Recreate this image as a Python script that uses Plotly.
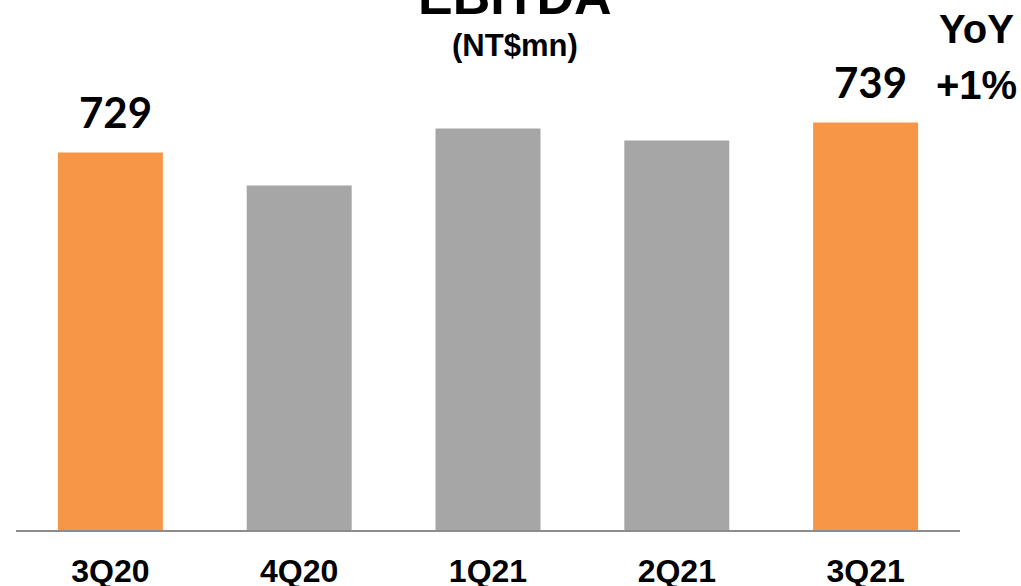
import plotly.graph_objects as go

categories = ["3Q20", "4Q20", "1Q21", "2Q21", "3Q21"]
ebitda = [729, 718, 737, 733, 739]
bar_colors = ["#F79646", "#A6A6A6", "#A6A6A6", "#A6A6A6", "#F79646"]
labeled = {"3Q20": "729", "3Q21": "739"}

W, H = 1021, 586
L, R, T, B = 16, 61, 0, 56
ph = H - T - B

fig = go.Figure()
fig.add_trace(go.Bar(x=categories, y=ebitda, marker=dict(color=bar_colors, line=dict(width=0)),
                     hoverinfo="skip"))

def py(p):
    return 1 - (p - T) / ph

annotations = []
for c, t in labeled.items():
    v = ebitda[categories.index(c)]
    annotations.append(dict(x=c, y=v, xref="x", yref="y", text=t, showarrow=False,
                            xanchor="center", yanchor="middle", yshift=40, xshift=5,
                            font=dict(family="Lato", size=42, color="#000000", weight="bold")))

annotations += [
    dict(x=515, y=py(-4), xref="paper", yref="paper", text="EBITDA", showarrow=False,
         xanchor="center", yanchor="middle",
         font=dict(family="Liberation Sans", size=52, color="#000", weight="bold")),
    dict(x=515, y=py(46), xref="paper", yref="paper", text="(NT$mn)", showarrow=False,
         xanchor="center", yanchor="middle",
         font=dict(family="Liberation Sans", size=31, color="#000", weight="bold")),
    dict(x=976, y=py(29), xref="paper", yref="paper", text="YoY", showarrow=False,
         xanchor="center", yanchor="middle",
         font=dict(family="Liberation Sans", size=40, color="#000", weight="bold")),
    dict(x=976, y=py(85), xref="paper", yref="paper", text="+1%", showarrow=False,
         xanchor="center", yanchor="middle",
         font=dict(family="Liberation Sans", size=40, color="#000", weight="bold")),
]
pw = W - L - R
for a in annotations:
    if a["xref"] == "paper":
        a["x"] = (a["x"] - L) / pw

fig.update_layout(
    width=W, height=H,
    margin=dict(l=L, r=R, t=T, b=B, autoexpand=False),
    paper_bgcolor="white", plot_bgcolor="white",
    bargap=0.444,
    showlegend=False,
    annotations=annotations,
    xaxis=dict(showline=True, linecolor="#8C8C8C", linewidth=2, ticks="", automargin=False,
               tickfont=dict(family="Liberation Sans", size=32, color="#000", weight="bold"),
               showgrid=False, zeroline=False, ticklabelstandoff=12),
    yaxis=dict(range=[603.2, 779.8], visible=False, showgrid=False, zeroline=False,
               automargin=False),
)

fig.write_html("out.html", config={"displayModeBar": False})
